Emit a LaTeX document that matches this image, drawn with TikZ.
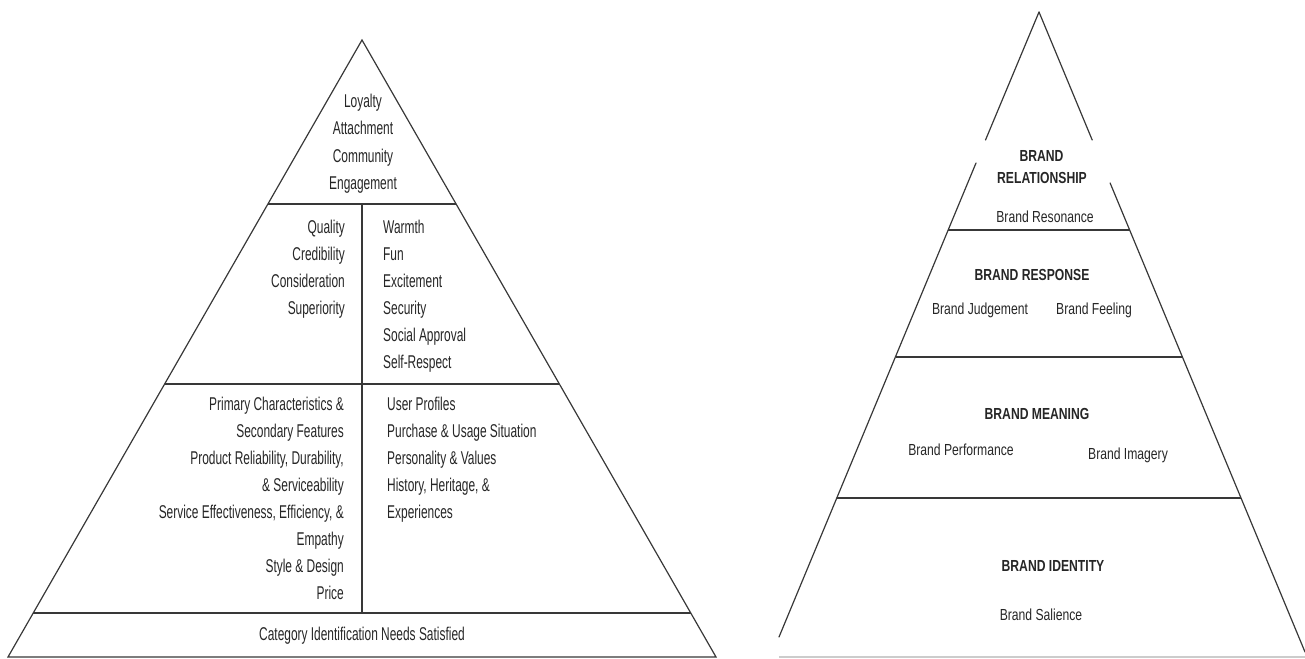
\documentclass[tikz,border=0pt]{standalone}
\usepackage{fontspec}
\setmainfont{Liberation Sans}
\newfontfamily\leftfont[FakeStretch=0.645]{Liberation Sans}
\newfontfamily\rightfont[FakeStretch=0.76]{Liberation Sans}
\definecolor{linecol}{HTML}{383838}
\definecolor{textcol}{HTML}{262626}
\definecolor{bordercol}{HTML}{CCCCCC}
\tikzset{
  edge/.style={draw=linecol, line width=1.2pt, line cap=round},
  divider/.style={draw=linecol, line width=1.5pt},
  ltext/.style={inner sep=0pt, text=textcol, font=\leftfont\fontsize{18.5}{22}\selectfont},
  ltr/.style={ltext, anchor=base east},
  ltl/.style={ltext, anchor=base west},
  ltc/.style={ltext, anchor=base},
  rtext/.style={inner sep=0pt, anchor=base, text=textcol, font=\rightfont\fontsize{16}{19}\selectfont},
  rhead/.style={rtext, font=\rightfont\bfseries\fontsize{16}{19}\selectfont},
}
\begin{document}
\begin{tikzpicture}[x=1pt, y=-1pt]
\useasboundingbox (0,0) rectangle (1305,658);
% ---------------- left pyramid ----------------
\coordinate (LA) at (362,40);
\coordinate (LBL) at (8,657);
\coordinate (LBR) at (716,657);
\draw[edge] (LBL) -- (LA) -- (LBR) -- cycle;
\coordinate (L1a) at (268,204); \coordinate (L1b) at (456,204);
\coordinate (L2a) at (164.6,384); \coordinate (L2b) at (559.4,384);
\coordinate (L3a) at (33.3,613); \coordinate (L3b) at (690.7,613);
\coordinate (Vt) at (362,204); \coordinate (Vb) at (362,613);
\draw[divider] (L1a) -- (L1b);
\draw[divider] (L2a) -- (L2b);
\draw[divider] (L3a) -- (L3b);
\draw[edge, line cap=butt] (Vt) -- (Vb);
% top texts
\foreach \t [count=\i] in {Loyalty,Attachment,Community,Engagement}
  \node[ltc] (top\i) at (363,{107+27.5*(\i-1)}) {\t};
% middle left
\foreach \t [count=\i] in {Quality,Credibility,Consideration,Superiority}
  \node[ltr] (ml\i) at (345,{233+27*(\i-1)}) {\t};
% middle right
\foreach \t [count=\i] in {Warmth,Fun,Excitement,Security,Social Approval,Self-Respect}
  \node[ltl] (mr\i) at (383,{233+27*(\i-1)}) {\t};
% lower left
\foreach \t [count=\i] in {{Primary Characteristics \&},{Secondary Features},{Product Reliability, Durability,},{\& Serviceability},{Service Effectiveness, Efficiency, \&},{Empathy},{Style \& Design},{Price}}
  \node[ltr] (bl\i) at (344,{410+27*(\i-1)}) {\t};
% lower right
\foreach \t [count=\i] in {{User Profiles},{Purchase \& Usage Situation},{Personality \& Values},{History, Heritage, \&},{Experiences}}
  \node[ltl] (br\i) at (387,{410+27*(\i-1)}) {\t};
\node[ltc] (cat) at (362,640) {Category Identification Needs Satisfied};
% ---------------- right pyramid ----------------
\coordinate (RA) at (1039,12);
\coordinate (RLg1) at (985.5,140); \coordinate (RLg2) at (976,163);
\coordinate (RRg1) at (1092.2,140); \coordinate (RRg2) at (1110.1,183);
\coordinate (RBL) at (779,637);
\coordinate (RBR) at (1305,652);
\draw[edge] (RA) -- (RLg1);
\draw[edge] (RLg2) -- (RBL);
\draw[edge] (RA) -- (RRg1);
\draw[edge] (RRg2) -- (RBR);
\coordinate (R1a) at (948.3,230); \coordinate (R1b) at (1129.6,230);
\coordinate (R2a) at (895.5,357); \coordinate (R2b) at (1182.4,357);
\coordinate (R3a) at (836.8,498); \coordinate (R3b) at (1241,498);
\draw[divider] (R1a) -- (R1b);
\draw[divider] (R2a) -- (R2b);
\draw[divider] (R3a) -- (R3b);
\coordinate (RB1) at (779,657); \coordinate (RB2) at (1305,657);
\draw[draw=bordercol, line width=1.2pt] (RB1) -- (RB2);
\node[rhead] (rel1) at (1041.5,161) {BRAND};
\node[rhead] (rel2) at (1042,183) {RELATIONSHIP};
\node[rtext] (reso) at (1045,222) {Brand Resonance};
\node[rhead] (resp) at (1032,280) {BRAND RESPONSE};
\node[rtext] (judg) at (980,314) {Brand Judgement};
\node[rtext] (feel) at (1094,314) {Brand Feeling};
\node[rhead] (mean) at (1037,419) {BRAND MEANING};
\node[rtext] (perf) at (961,455) {Brand Performance};
\node[rtext] (imag) at (1128,459) {Brand Imagery};
\node[rhead] (iden) at (1053,571) {BRAND IDENTITY};
\node[rtext] (sali) at (1041,620) {Brand Salience};
\end{tikzpicture}
\end{document}
